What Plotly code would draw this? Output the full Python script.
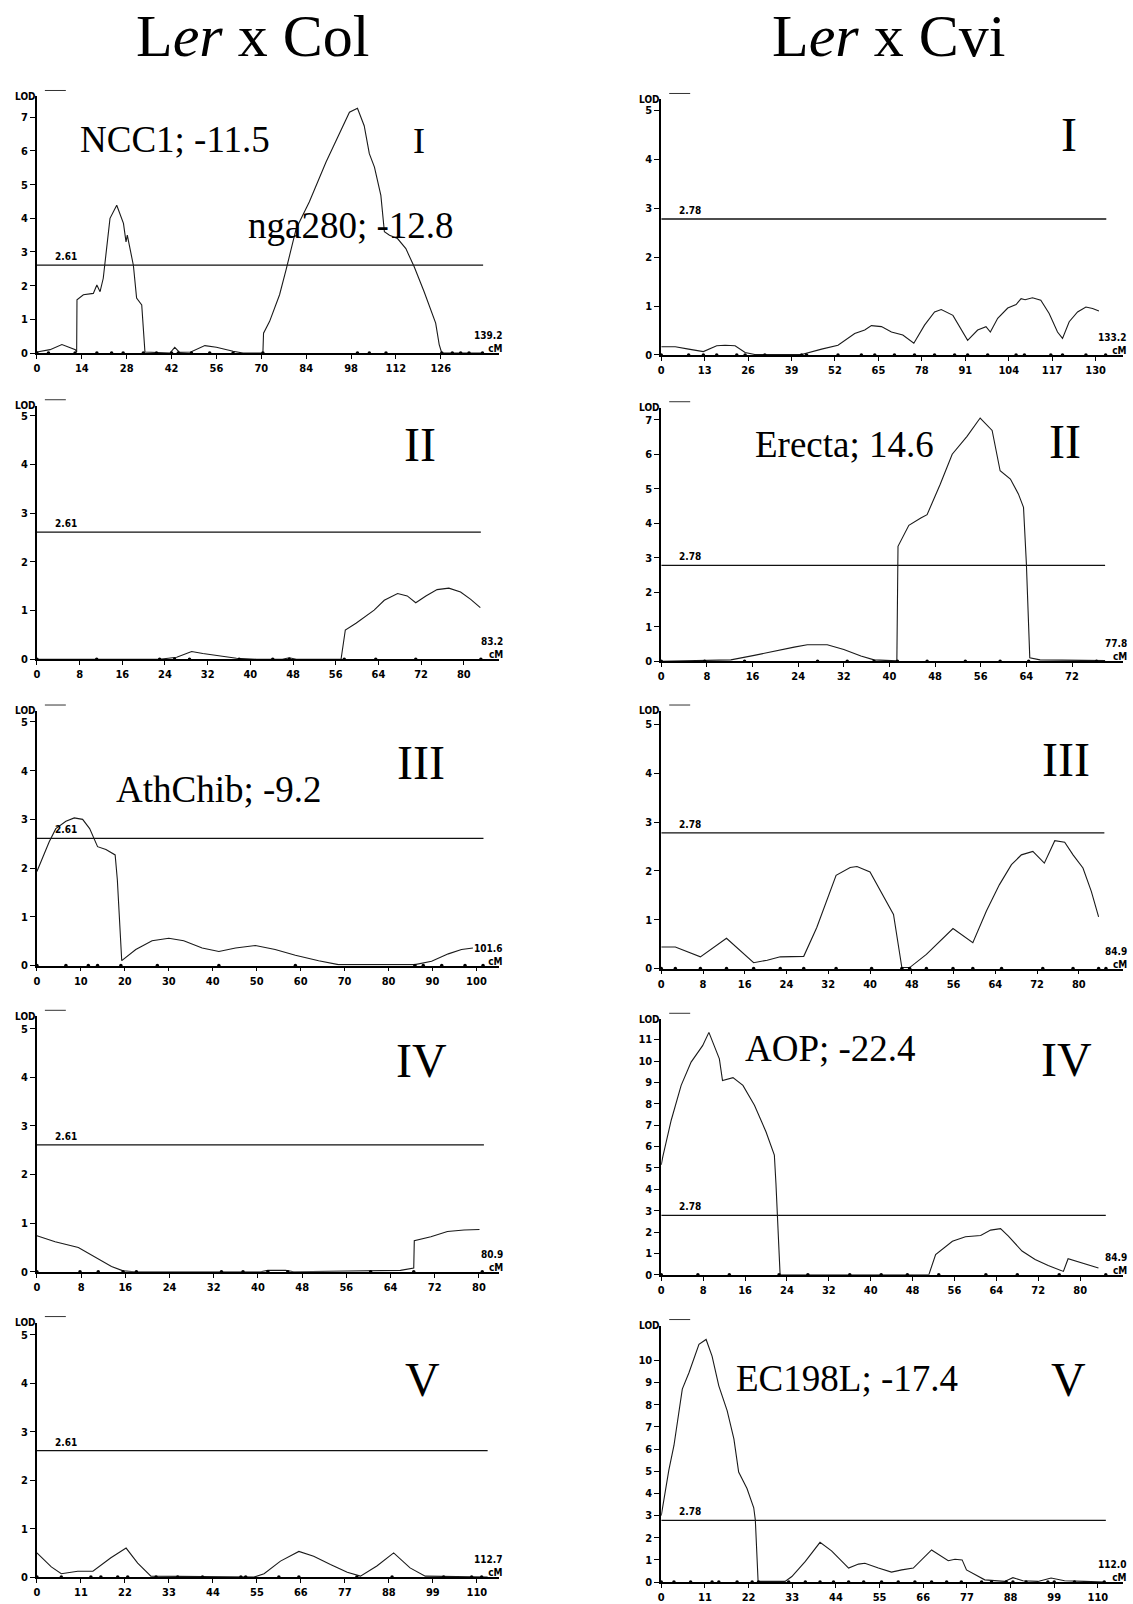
import plotly.graph_objects as go

W, H = 1133, 1604

# ---------------- data: Ler x Col ----------------
col_I_cm = [0, 4.1, 7.8, 12.0, 12.4, 12.5, 14.5, 16.6, 17.6, 18.7, 19.7, 20.7, 22.8, 24.9, 27.0, 27.8, 28.2, 30.1, 31.1, 32.7,
            33.7, 41.5, 43.0, 44.5, 48.0, 52.4, 56.0, 61.2, 64.3, 70.5, 70.7, 72.6, 75.7, 77.8, 80.9, 85.0, 90.2, 97.5, 100.0,
            102.1, 103.7, 105.3, 107.3, 108.4, 110.0, 112.5, 115.1, 117.7, 120.8, 124.4, 125.5, 126.3, 139.2]
col_I_lod = [0.03, 0.10, 0.25, 0.10, 0.03, 1.58, 1.73, 1.75, 1.77, 2.02, 1.82, 2.22, 4.00, 4.39, 3.85, 3.30, 3.50, 2.60, 1.63, 1.43,
             0.03, 0.00, 0.17, 0.02, 0.03, 0.22, 0.17, 0.05, 0.00, 0.00, 0.59, 0.94, 1.73, 2.50, 3.70, 4.49, 5.67, 7.15, 7.27,
             6.75, 5.92, 5.52, 4.68, 3.60, 3.50, 3.40, 3.10, 2.56, 1.82, 0.89, 0.25, 0.00, 0.00]
col_I_markers = [0, 3.6, 11.9, 18.7, 23.3, 26.9, 33.2, 37.3, 42, 44.1, 48.2, 53.9, 61.2, 70.5, 100, 103.7, 108.9, 126.3,
                 129.6, 132.2, 134.8, 139.0]

col_II_cm = [0, 23.0, 26.2, 29.0, 31.1, 37.4, 41.1, 46.0, 47.3, 48.6, 57.0, 57.8, 59.8, 63.2, 65.1, 67.6, 69.4, 71.0, 72.9,
             75.0, 77.2, 79.4, 81.3, 83.1]
col_II_lod = [0, 0, 0.04, 0.16, 0.12, 0.02, 0.0, 0.0, 0.03, 0.0, 0.0, 0.60, 0.74, 1.01, 1.21, 1.35, 1.30, 1.16, 1.30,
              1.43, 1.46, 1.38, 1.23, 1.06]
col_II_markers = [0, 11.2, 23, 25.8, 28.6, 37.9, 44.2, 47.3, 57.6, 63.5, 71, 83.2]

col_III_cm = [0, 0.9, 2.8, 4.3, 6.6, 8.5, 10.4, 12.0, 13.8, 15.7, 17.8, 18.3, 19.3, 22.5, 26.2, 30.0, 33.4, 37.6, 41.4, 45.2,
              49.7, 54.2, 58.8, 64.1, 68.6, 75.4, 86.0, 89.8, 93.6, 96.6, 99.2]
col_III_lod = [1.93, 2.13, 2.54, 2.81, 2.96, 3.03, 3.00, 2.81, 2.44, 2.38, 2.27, 1.76, 0.10, 0.33, 0.51, 0.56, 0.51, 0.36,
               0.29, 0.36, 0.41, 0.33, 0.21, 0.10, 0.02, 0.02, 0.02, 0.09, 0.24, 0.33, 0.36]
col_III_markers = [0, 6.6, 11.7, 13.8, 19.1, 27.4, 41.4, 58.8, 86, 87.9, 92.1, 97.4, 101.5]

col_IV_cm = [0, 3.3, 7.5, 11.1, 13.5, 15.6, 17.7, 40.5, 41.8, 45.0, 46.5, 65.8, 68.2, 68.3, 71.3, 74.3, 77.3, 80.1]
col_IV_lod = [0.74, 0.62, 0.50, 0.26, 0.11, 0.02, 0.0, 0.0, 0.03, 0.03, 0.0, 0.03, 0.08, 0.64, 0.72, 0.83, 0.86, 0.87]
col_IV_markers = [0, 7.8, 11.1, 15.6, 18, 33.4, 37.3, 41.8, 45.4, 60.4, 68.2, 80.6]

col_V_cm = [0, 3.6, 6.1, 10.2, 14.0, 18.5, 22.3, 25.2, 28.5, 54.3, 56.8, 60.9, 65.5, 69.2, 73.4, 77.6, 80.9, 85.0, 89.2,
            93.3, 97.1, 112.7]
col_V_lod = [0.50, 0.21, 0.07, 0.12, 0.12, 0.40, 0.60, 0.29, 0.02, 0.0, 0.07, 0.33, 0.53, 0.43, 0.26, 0.10, 0.02, 0.23,
             0.50, 0.19, 0.02, 0.0]
col_V_markers = [0, 6.1, 13.5, 16, 20.2, 22.7, 29.8, 35.2, 41.4, 51, 52.2, 60.5, 65.5, 80, 88.8, 101.7, 108.7, 111.2]

# ---------------- data: Ler x Cvi ----------------
cvi_I_cm = [0, 4.2, 8.2, 12.6, 16.6, 19.1, 22.1, 25.1, 28.0, 42.0, 48.0, 52.9, 57.9, 60.9, 62.9, 65.9, 68.9, 72.3, 75.6,
            78.8, 81.8, 83.8, 87.3, 91.7, 94.7, 97.2, 98.5, 100.7, 103.7, 106.2, 107.7, 108.9, 111.1, 113.6, 116.1, 118.6,
            120.1, 122.1, 124.6, 127.1, 129.1, 131.0]
cvi_I_lod = [0.17, 0.17, 0.12, 0.07, 0.19, 0.20, 0.19, 0.05, 0.01, 0.01, 0.12, 0.20, 0.44, 0.51, 0.60, 0.58, 0.47, 0.41,
             0.24, 0.61, 0.88, 0.93, 0.81, 0.30, 0.51, 0.58, 0.47, 0.75, 0.96, 1.03, 1.15, 1.13, 1.17, 1.12, 0.85, 0.47,
             0.34, 0.68, 0.88, 0.98, 0.95, 0.90]
cvi_I_markers = [0, 8.2, 12.6, 16.6, 22.6, 25.1, 31, 42, 43.5, 52.9, 59.9, 63.9, 69.8, 75.8, 81.8, 87.8, 91.7, 97.7,
                 106.2, 108.7, 116.6, 120.1, 127.1, 133]

cvi_II_cm = [0, 12.2, 16.3, 19.8, 23.3, 25.6, 29.1, 32.0, 35.0, 37.3, 41.3, 41.5, 43.4, 45.5, 46.6, 48.9, 51.0, 53.6, 55.9,
             58.0, 59.4, 61.2, 62.6, 63.5, 64.0, 64.6, 66.4, 77.8]
cvi_II_lod = [0, 0.04, 0.17, 0.30, 0.41, 0.48, 0.48, 0.34, 0.15, 0.04, 0.01, 3.33, 3.94, 4.15, 4.25, 5.13, 6.00, 6.52,
              7.05, 6.69, 5.52, 5.28, 4.85, 4.46, 2.84, 0.10, 0.04, 0.02]
cvi_II_markers = [0, 7.6, 14.6, 27.4, 32.6, 37.3, 41.4, 46.6, 53.3, 59.4, 64.4, 76.3]

cvi_III_cm = [0, 2.7, 7.5, 12.5, 17.7, 20.3, 22.8, 24.7, 27.3, 29.8, 33.5, 36.2, 37.5, 40.0, 42.5, 44.5, 46.1, 47.6, 50.8,
              53.4, 55.9, 59.7, 62.3, 64.8, 67.1, 69.0, 71.2, 73.4, 75.4, 77.3, 78.9, 80.8, 82.4, 83.8]
cvi_III_lod = [0.44, 0.44, 0.24, 0.62, 0.12, 0.17, 0.24, 0.25, 0.25, 0.84, 1.91, 2.07, 2.09, 1.98, 1.51, 1.11, 0.02, 0.02,
               0.29, 0.56, 0.82, 0.53, 1.18, 1.72, 2.13, 2.33, 2.40, 2.16, 2.62, 2.59, 2.33, 2.06, 1.58, 1.06]
cvi_III_markers = [0, 2.7, 7.5, 12.5, 17.7, 22.8, 27.3, 33.5, 40.3, 46.1, 47.6, 50.8, 55.9, 59.7, 65.2, 73.1, 78.9,
                   83.8, 85.2]

cvi_IV_cm = [0, 0.3, 1.9, 3.8, 5.7, 7.9, 9.1, 11.1, 11.7, 13.7, 15.6, 17.8, 20.0, 21.6, 21.9, 22.2, 22.7, 51.1, 52.4,
             55.6, 58.1, 61.0, 62.9, 64.8, 66.3, 68.9, 71.4, 73.9, 76.2, 76.8, 77.7, 80.3, 83.5]
cvi_IV_lod = [5.14, 5.53, 7.23, 8.86, 9.95, 10.72, 11.34, 10.10, 9.09, 9.22, 8.86, 7.93, 6.69, 5.60, 4.29, 2.74, 0.0,
              0.0, 0.95, 1.57, 1.78, 1.84, 2.09, 2.16, 1.81, 1.11, 0.72, 0.44, 0.22, 0.16, 0.75, 0.57, 0.32]
cvi_IV_markers = [0, 7, 13, 22.5, 28, 36, 42, 47, 53, 62, 68, 76, 84.9]

cvi_V_cm = [0, 1.9, 3.2, 5.3, 7.0, 9.5, 11.3, 12.8, 14.5, 16.6, 18.3, 19.5, 21.6, 23.3, 23.7, 24.4, 31.2, 32.9, 36.3,
            40.0, 42.9, 47.2, 49.7, 51.3, 54.7, 58.0, 60.6, 63.5, 68.1, 72.3, 74.0, 75.8, 76.9, 81.5, 86.5, 88.6, 91.1,
            94.9, 98.2, 101.6, 106.6, 111.6]
cvi_V_lod = [3.00, 5.04, 6.16, 8.70, 9.45, 10.72, 10.94, 10.19, 8.85, 7.73, 6.46, 4.96, 4.22, 3.35, 2.80, 0.03, 0.03,
             0.25, 0.93, 1.79, 1.41, 0.63, 0.81, 0.85, 0.63, 0.45, 0.55, 0.63, 1.45, 0.96, 1.03, 1.00, 0.55, 0.10, 0.03,
             0.20, 0.06, 0.03, 0.18, 0.06, 0.03, 0.0]
cvi_V_markers = [0, 3.2, 7.4, 12.8, 14.5, 19.1, 22.9, 24.5, 32.1, 36.3, 40, 43.4, 47.2, 51, 55.5, 59.7, 63.9, 68.1,
                 71.9, 75.6, 80.7, 83.2, 86.9, 88.6, 91.9, 97.4, 99, 104.1, 111.6]

chrom_lengths_col = [139.2, 83.2, 101.6, 80.9, 112.7]
chrom_lengths_cvi = [133.2, 77.8, 84.9, 84.9, 112.0]
threshold_col = 2.61
threshold_cvi = 2.78
tick_step_col = [14, 8, 10, 8, 11]
tick_step_cvi = [13, 8, 8, 8, 11]
chrom_names = ["I", "II", "III", "IV", "V"]
qtl_labels_col = ["NCC1; -11.5", None, "AthChib; -9.2", None, None]
qtl2_label_col_I = "nga280; -12.8"
qtl_labels_cvi = [None, "Erecta; 14.6", None, "AOP; -22.4", "EC198L; -17.4"]

col_series = [(col_I_cm, col_I_lod, col_I_markers), (col_II_cm, col_II_lod, col_II_markers),
              (col_III_cm, col_III_lod, col_III_markers), (col_IV_cm, col_IV_lod, col_IV_markers),
              (col_V_cm, col_V_lod, col_V_markers)]
cvi_series = [(cvi_I_cm, cvi_I_lod, cvi_I_markers), (cvi_II_cm, cvi_II_lod, cvi_II_markers),
              (cvi_III_cm, cvi_III_lod, cvi_III_markers), (cvi_IV_cm, cvi_IV_lod, cvi_IV_markers),
              (cvi_V_cm, cvi_V_lod, cvi_V_markers)]

# ---------------- layout geometry (pixels) ----------------
X_START = [34, 660]
X_END = [497, 1123]
Y_ZERO = [355, 357, 663, 665, 971, 974, 1279, 1282, 1586, 1591]
Y_TOP = [97, 100, 408, 410, 715, 715, 1022, 1025, 1330, 1333]
Y_UNIT = [33.86, 49.2, 49.0, 34.7, 49.0, 49.07, 48.9, 21.5, 48.7, 22.3]
X_PPC = [3.214, 3.35, 5.35, 5.72, 4.407, 5.233, 5.54, 5.25, 4.01, 3.98]
Y_TICK_MAX = [7, 5, 5, 7, 5, 5, 5, 11, 5, 10]

# label positions (pixels): numeral centre, qtl label centre
NUMERAL_POS = [(417, 138, 36), (1069, 130, 48), (418, 442, 48), (1065, 439, 48), (419, 762, 48),
               (1066, 759, 48), (420, 1062, 48), (1066, 1061, 48), (421, 1382, 48), (1068, 1382, 48)]
QTL_POS = {0: (172, 137), 3: (844, 444), 4: (217, 790), 7: (830, 1051), 9: (846, 1383)}


def px(x):
    return x / W


def py(y):
    return 1 - y / H


fig = go.Figure()
annotations = []
shapes = []
layout_axes = {}

TICKFONT = dict(family="Liberation Sans Narrow, DejaVu Sans Condensed, Liberation Sans, sans-serif",
                size=11, color="black", weight="bold")
SMALLFONT = dict(family="Liberation Sans Narrow, DejaVu Sans Condensed, Liberation Sans, sans-serif",
                 size=10, color="black", weight="bold")
SERIF = "Liberation Serif, Times New Roman, serif"

for k in range(10):
    col = k % 2
    row = k // 2
    if col == 0:
        cm, lod, markers = col_series[row]
        length = chrom_lengths_col[row]
        thr = threshold_col
        step = tick_step_col[row]
        qtl = qtl_labels_col[row]
    else:
        cm, lod, markers = cvi_series[row]
        length = chrom_lengths_cvi[row]
        thr = threshold_cvi
        step = tick_step_cvi[row]
        qtl = qtl_labels_cvi[row]

    xs, xe = X_START[col], X_END[col]
    xmax = (xe - xs) / X_PPC[k]
    ymax = (Y_ZERO[k] - Y_TOP[k]) / Y_UNIT[k]
    xname = "x" if k == 0 else f"x{k + 1}"
    yname = "y" if k == 0 else f"y{k + 1}"
    xkey = "xaxis" if k == 0 else f"xaxis{k + 1}"
    ykey = "yaxis" if k == 0 else f"yaxis{k + 1}"

    xticks = []
    t = 0
    while t <= length + 1e-9:
        xticks.append(t)
        t += step

    layout_axes[xkey] = dict(domain=[px(xs), px(xe)], anchor=yname, range=[0, xmax],
                             tickvals=xticks, ticks="outside", ticklen=4, tickwidth=1.2,
                             tickcolor="black", showline=True, linecolor="black", linewidth=1.6,
                             showgrid=False, zeroline=False, tickfont=TICKFONT, fixedrange=True)
    layout_axes[ykey] = dict(domain=[py(Y_ZERO[k]), py(Y_TOP[k])], anchor=xname, range=[0, ymax],
                             tickvals=list(range(0, Y_TICK_MAX[k] + 1)), ticks="outside", ticklen=5,
                             tickwidth=1.2, tickcolor="black", showline=True, linecolor="black",
                             linewidth=1.6, showgrid=False, zeroline=False, tickfont=TICKFONT,
                             fixedrange=True)

    # threshold
    fig.add_trace(go.Scatter(x=[0, length], y=[thr, thr], mode="lines", xaxis=xname, yaxis=yname,
                             line=dict(color="#111111", width=1.3), hoverinfo="skip"))
    # LOD curve
    fig.add_trace(go.Scatter(x=cm, y=lod, mode="lines", xaxis=xname, yaxis=yname,
                             line=dict(color="#1a1a1a", width=1.1), cliponaxis=False))
    # marker dots
    fig.add_trace(go.Scatter(x=markers, y=[0] * len(markers), mode="markers", xaxis=xname, yaxis=yname,
                             marker=dict(color="black", size=3.5), cliponaxis=False, hoverinfo="skip"))

    # threshold label
    annotations.append(dict(xref=xname, yref=yname, x=0, y=thr, xshift=29, yshift=1, xanchor="center",
                            yanchor="bottom", text=f"{thr:.2f}", showarrow=False, font=SMALLFONT))
    # chromosome length label
    annotations.append(dict(xref="paper", yref=yname, x=px(xe + 6), y=0, xanchor="right", yanchor="bottom",
                            yshift=-3, text=f"{length:.1f}<br>cM", align="right", showarrow=False,
                            font=dict(SMALLFONT, size=10)))
    # LOD label
    annotations.append(dict(xref="paper", yref="paper", x=px(xs + 1), y=py(Y_TOP[k]), xanchor="right",
                            yanchor="middle", text="LOD", showarrow=False, font=dict(SMALLFONT, size=10)))
    shapes.append(dict(type="line", xref="paper", yref="paper", x0=px(xs + 8), x1=px(xs + 29),
                       y0=py(Y_TOP[k] - 6), y1=py(Y_TOP[k] - 6), line=dict(color="#333333", width=1)))

    # chromosome numeral
    nx, ny, nsize = NUMERAL_POS[k]
    annotations.append(dict(xref="paper", yref="paper", x=px(nx), y=py(ny + 0.1 * nsize), xanchor="center",
                            yanchor="middle", text=chrom_names[row], showarrow=False,
                            font=dict(family=SERIF, size=nsize, color="black")))
    if qtl:
        qx, qy = QTL_POS[k]
        annotations.append(dict(xref="paper", yref="paper", x=px(qx), y=py(qy + 3.5), xanchor="center",
                                yanchor="middle", text=qtl, showarrow=False,
                                font=dict(family=SERIF, size=37, color="black")))

# second QTL label on Ler x Col chromosome I
annotations.append(dict(xref="paper", yref="paper", x=px(349), y=py(223 + 3.5), xanchor="center",
                        yanchor="middle", text=qtl2_label_col_I, showarrow=False,
                        font=dict(family=SERIF, size=37, color="black")))

# column titles
annotations.append(dict(xref="paper", yref="paper", x=px(250), y=py(33 + 3), xanchor="center", yanchor="middle",
                        text="L<i>er</i> x Col", showarrow=False, font=dict(family=SERIF, size=60, color="black")))
annotations.append(dict(xref="paper", yref="paper", x=px(888), y=py(33 + 3), xanchor="center", yanchor="middle",
                        text="L<i>er</i> x Cvi", showarrow=False, font=dict(family=SERIF, size=60, color="black")))

fig.update_layout(width=W, height=H, margin=dict(l=0, r=0, t=0, b=0), showlegend=False,
                  plot_bgcolor="white", paper_bgcolor="white", annotations=annotations, shapes=shapes,
                  **layout_axes)

fig.write_html("out.html", config={"displayModeBar": False},
               post_script="document.body.style.margin='0';document.body.style.padding='0';"
                           "document.body.style.overflow='hidden';")
